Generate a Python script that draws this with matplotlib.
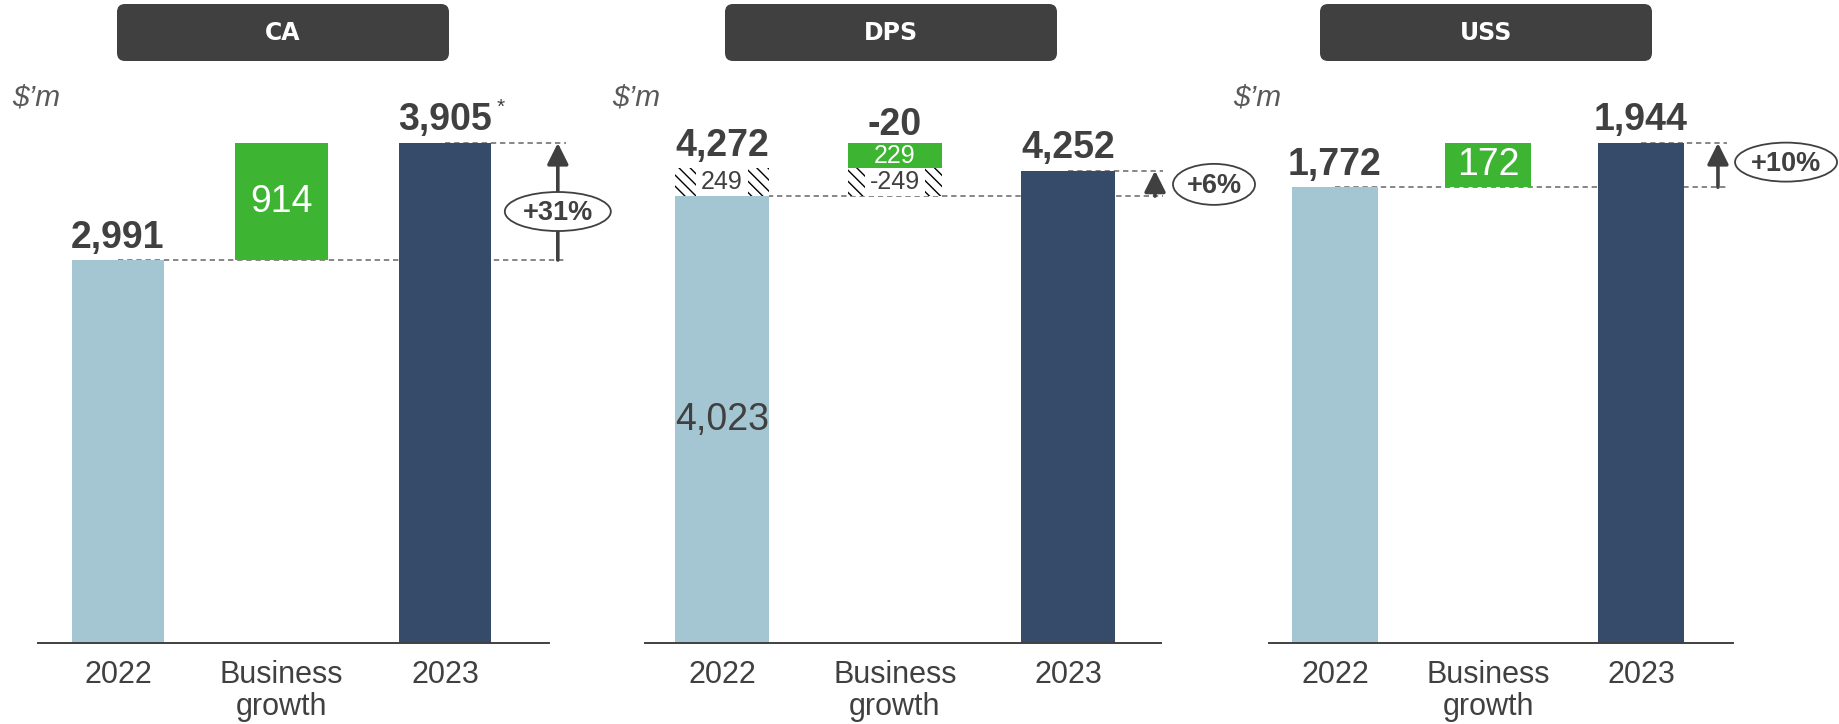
import matplotlib
matplotlib.use("Agg")
import matplotlib.pyplot as plt
from matplotlib.patches import FancyBboxPatch, Ellipse
from matplotlib.transforms import ScaledTranslation

plt.rcParams['font.family'] = ['Liberation Sans', 'DejaVu Sans']
plt.rcParams['hatch.linewidth'] = 1.0

# data ($'m)
segments = ['CA', 'DPS', 'USS']
categories = ['2022', 'Business\ngrowth', '2023']
base_2022 = [2991, 4023, 1772]      # comparable 2022 base
one_off_2022 = [0, 249, 0]          # hatched part of 2022
growth_up = [914, 229, 172]
growth_down = [0, -249, 0]
total_2023 = [3905, 4252, 1944]
pct_change = ['+31%', '+6%', '+10%']
footnote = ['*', '', '']

# colours
light = '#A3C6D2'
navy = '#364B6A'
green = '#3DB532'
dark = '#404040'

# layout (pixels of the 1839x724 output)
W, H = 1839, 724
base_px, top_px, ax_top_px = 643, 143, 100
axis_px = [(38, 549), (645, 1161), (1269, 1733)]
centers_px = [(118, 445), (722, 1068), (1335, 1641)]
header_px = [(117, 449), (725, 1057), (1320, 1652)]
unit_px = [12, 612, 1233]
bar_w = [0.563, 0.549, 0.562]
arrow_x = [2.69, 2.503, 2.503]
ellipse_x = [2.69, 2.844, 2.948]
ellipse_dy = [-10, -1, 3]           # px
ellipse_size = [(106, 39), (82, 41), (102, 39)]  # px
dash_end = [2.74, 2.549, 2.562]

fig = plt.figure(figsize=(W / 100, H / 100), dpi=100)

for i, seg in enumerate(segments):
    x0, x1 = axis_px[i]
    c0, c2 = centers_px[i]
    s = (c2 - c0) / 2
    ax = fig.add_axes([x0 / W, (H - base_px) / H, (x1 - x0) / W, (base_px - ax_top_px) / H])
    ax.set_xlim((x0 - c0) / s, (x1 - c0) / s)
    ax.patch.set_alpha(0)

    b = base_2022[i]
    t22 = b + one_off_2022[i]
    up_top = t22 + growth_up[i]
    t23 = total_2023[i]
    ymax = max(t22, up_top, t23)
    ax.set_ylim(0, ymax * (base_px - ax_top_px) / (base_px - top_px))
    w = bar_w[i]

    # 2022
    ax.bar(0, b, w, color=light, zorder=2)
    if one_off_2022[i]:
        ax.bar(0, one_off_2022[i], w, bottom=b, color='white', edgecolor='black',
               hatch='\\\\\\', lw=0, zorder=2)
        ax.bar(0, one_off_2022[i], w * 0.55, bottom=b, color='white', zorder=3)
        ax.text(0, b + one_off_2022[i] / 2, f"{one_off_2022[i]:,}", ha='center', va='center',
                fontsize=18, color=dark, zorder=4)
        ax.text(0, b / 2, f"{b:,}", ha='center', va='center', fontsize=27, color=dark, zorder=4)
    ax.annotate(f"{t22:,}", (0, t22), xytext=(0, 9), textcoords='offset points',
                ha='center', va='baseline', fontsize=27, fontweight='bold', color=dark)

    # business growth
    ax.bar(1, growth_up[i], w, bottom=t22, color=green, zorder=2)
    ax.text(1, t22 + growth_up[i] / 2, f"{growth_up[i]:,}", ha='center', va='center',
            fontsize=27 if not growth_down[i] else 18, color='white', zorder=4)
    if growth_down[i]:
        ax.bar(1, -growth_down[i], w, bottom=t22 + growth_down[i], color='white',
               edgecolor='black', hatch='\\\\\\', lw=0, zorder=2)
        ax.bar(1, -growth_down[i], w * 0.64, bottom=t22 + growth_down[i], color='white', zorder=3)
        ax.text(1, t22 + growth_down[i] / 2, f"{growth_down[i]:,}", ha='center', va='center',
                fontsize=18, color=dark, zorder=4)
        net = growth_up[i] + growth_down[i]
        ax.annotate(f"{net:,}", (1, up_top), xytext=(0, 6), textcoords='offset points',
                    ha='center', va='baseline', fontsize=27, fontweight='bold', color=dark)

    # 2023
    ax.bar(2, t23, w, color=navy, zorder=2)
    ax.annotate(f"{t23:,}", (2, t23), xytext=(0, 9), textcoords='offset points',
                ha='center', va='baseline', fontsize=27, fontweight='bold', color=dark)
    if footnote[i]:
        ax.annotate(footnote[i], (2, t23), xytext=(40, 26), textcoords='offset points',
                    ha='center', va='center', fontsize=15, color=dark)

    # bridge lines, arrow, % change
    dash = dict(color='#666666', lw=1.1, ls=(0, (3.5, 2.5)), zorder=1, clip_on=False)
    ax.plot([0, dash_end[i]], [b, b], **dash)
    ax.plot([2, dash_end[i]], [t23, t23], **dash)
    ax.annotate('', xy=(arrow_x[i], t23), xytext=(arrow_x[i], b), annotation_clip=False,
                arrowprops=dict(arrowstyle='-|>', color=dark, lw=2.6, mutation_scale=32,
                                shrinkA=0, shrinkB=0), zorder=4)
    ex, ey = ellipse_size[i]
    etr = fig.dpi_scale_trans + ScaledTranslation(ellipse_x[i], (b + t23) / 2, ax.transData)
    ax.add_patch(Ellipse((0, ellipse_dy[i] / 100), ex / 100, ey / 100, transform=etr,
                         fc='white', ec=dark, lw=1.3, zorder=5, clip_on=False))
    ax.annotate(pct_change[i], (ellipse_x[i], (b + t23) / 2), xytext=(0, ellipse_dy[i] * 0.72 - 1),
                textcoords='offset points', ha='center', va='center', fontsize=19.5,
                fontweight='bold', color=dark, zorder=6, annotation_clip=False)

    ax.set_xticks([0, 1, 2], categories, fontsize=22, color=dark, linespacing=1.12)
    ax.tick_params(axis='x', length=0, pad=12)
    ax.set_yticks([])
    for sp in ['top', 'left', 'right']:
        ax.spines[sp].set_visible(False)
    ax.spines['bottom'].set_color(dark)
    ax.spines['bottom'].set_linewidth(1.4)

    # header box
    hx0, hx1 = header_px[i]
    fig.add_artist(FancyBboxPatch((hx0 / 100, (H - 61) / 100), (hx1 - hx0) / 100, 0.57,
                                  boxstyle='round,pad=0,rounding_size=0.08',
                                  transform=fig.dpi_scale_trans, fc=dark, ec='none'))
    fig.text((hx0 + hx1) / 2 / W, 1 - 33 / H, seg, ha='center', va='center', color='white',
             fontsize=17, fontweight='heavy', family='DejaVu Sans')

    fig.text(unit_px[i] / W, 1 - 97 / H, "$\u2019m", ha='left', va='center', fontsize=21.5,
             style='italic', color='#595959')

fig.savefig('out.png', dpi=100)
